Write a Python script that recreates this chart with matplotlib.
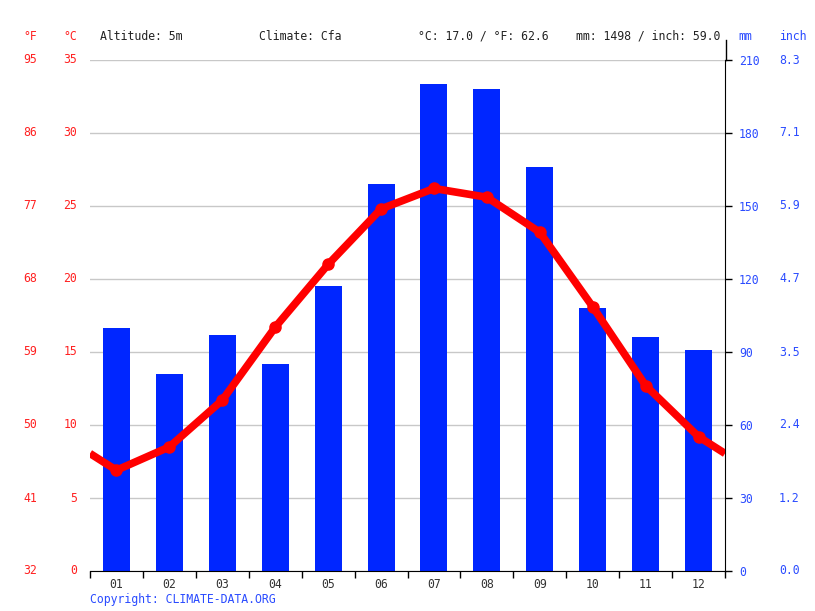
import numpy as np
import matplotlib.pyplot as plt
from matplotlib.transforms import blended_transform_factory
from matplotlib.lines import Line2D

months = ['01', '02', '03', '04', '05', '06', '07', '08', '09', '10', '11', '12']
precip_mm = [100, 81, 97, 85, 117, 159, 200, 198, 166, 108, 96, 91]
temp_c = [6.9, 8.5, 11.7, 16.7, 21.0, 24.8, 26.2, 25.6, 23.2, 18.1, 12.7, 9.2]
c_ticks = [0, 5, 10, 15, 20, 25, 30, 35]
mm_ticks = [0, 30, 60, 90, 120, 150, 180, 210]

RED = '#ff0000'
LABEL_RED = '#ff2020'
BLUE = '#0026ff'
LABEL_BLUE = '#2a4bff'
FONT = 'DejaVu Sans Mono'
FS = 8.3

plt.rcParams['font.family'] = FONT

fig = plt.figure(figsize=(8.15, 6.11), dpi=100)
ax2 = fig.add_axes([90 / 815, 40 / 611, 635 / 815, 511 / 611])
ax = ax2.twinx()

x = np.arange(1, 13)

# precipitation bars + grid on the mm axis
ax2.bar(x, precip_mm, width=0.51, color=BLUE, zorder=2)
ax2.set_ylim(0, 210)
ax2.set_xlim(0.5, 12.5)
ax2.set_yticks(mm_ticks)
ax2.yaxis.grid(True, color='#c8c8c8', linewidth=1, zorder=0)
ax2.set_axisbelow(True)
ax2.yaxis.tick_right()
ax2.tick_params(axis='y', which='both', right=True, left=False, labelleft=False,
                labelright=True, direction='out', length=5, width=1,
                labelcolor=LABEL_BLUE, labelsize=FS, pad=5)
for lab in ax2.get_yticklabels():
    lab.set_horizontalalignment('left')

# month ticks at boundaries, labels at centres
ax2.set_xticks(np.arange(0.5, 13.0, 1.0))
ax2.set_xticklabels([])
ax2.set_xticks(x, minor=True)
ax2.set_xticklabels(months, minor=True)
ax2.tick_params(axis='x', which='major', direction='out', length=5, width=1, color='black')
ax2.tick_params(axis='x', which='minor', length=0, labelsize=FS, labelcolor='#333333', pad=5)

for s in ['left', 'top']:
    ax2.spines[s].set_visible(False)
ax2.spines['right'].set_color('black')
ax2.spines['bottom'].set_color('black')

# temperature line on top
ax.set_zorder(ax2.get_zorder() + 1)
ax.patch.set_visible(False)
edge = (temp_c[0] + temp_c[-1]) / 2
line_x = np.concatenate([[0.5], x, [12.5]])
line_y = np.concatenate([[edge], temp_c, [edge]])
ax.plot(line_x, line_y, color=RED, linewidth=5.5, solid_capstyle='butt', zorder=3)
ax.plot(x, temp_c, 'o', color=RED, markersize=8, zorder=4)
ax.set_ylim(0, 35)
ax.set_xlim(0.5, 12.5)
ax.set_yticks([])
for s in ax.spines.values():
    s.set_visible(False)

# left-hand °C / °F labels
tr = blended_transform_factory(fig.transFigure, ax.transData)
for c in c_ticks:
    f = c * 9 / 5 + 32
    ax.text(77 / 815, c, f'{c}', transform=tr, ha='right', va='center',
            color=LABEL_RED, fontsize=FS)
    ax.text(37 / 815, c, f'{f:.0f}', transform=tr, ha='right', va='center',
            color=LABEL_RED, fontsize=FS)

# inch labels on the right
tr2 = blended_transform_factory(fig.transFigure, ax2.transData)
for mm in mm_ticks:
    ax2.text(779 / 815, mm, f'{mm / 25.4:.1f}', transform=tr2, ha='left', va='center',
             color=LABEL_BLUE, fontsize=FS)

# right spine extension above the plot
fig.add_artist(Line2D([725.5 / 815, 725.5 / 815], [(611 - 60) / 611, (611 - 40) / 611],
                      transform=fig.transFigure, color='black', linewidth=1))

# header
hy = 1 - 36 / 611
fig.text(37 / 815, hy, '°F', ha='right', va='center', color=LABEL_RED, fontsize=FS)
fig.text(77 / 815, hy, '°C', ha='right', va='center', color=LABEL_RED, fontsize=FS)
fig.text(100 / 815, hy, 'Altitude: 5m', ha='left', va='center', color='#222222', fontsize=FS)
fig.text(259 / 815, hy, 'Climate: Cfa', ha='left', va='center', color='#222222', fontsize=FS)
fig.text(418 / 815, hy, '°C: 17.0 / °F: 62.6', ha='left', va='center', color='#222222', fontsize=FS)
fig.text(576 / 815, hy, 'mm: 1498 / inch: 59.0', ha='left', va='center', color='#222222', fontsize=FS)
fig.text(738 / 815, hy, 'mm', ha='left', va='center', color=LABEL_BLUE, fontsize=FS)
fig.text(779 / 815, hy, 'inch', ha='left', va='center', color=LABEL_BLUE, fontsize=FS)

fig.text(90 / 815, 1 - 599 / 611, 'Copyright: CLIMATE-DATA.ORG', ha='left', va='center',
         color=LABEL_BLUE, fontsize=FS)

fig.savefig('out.png', dpi=100)
